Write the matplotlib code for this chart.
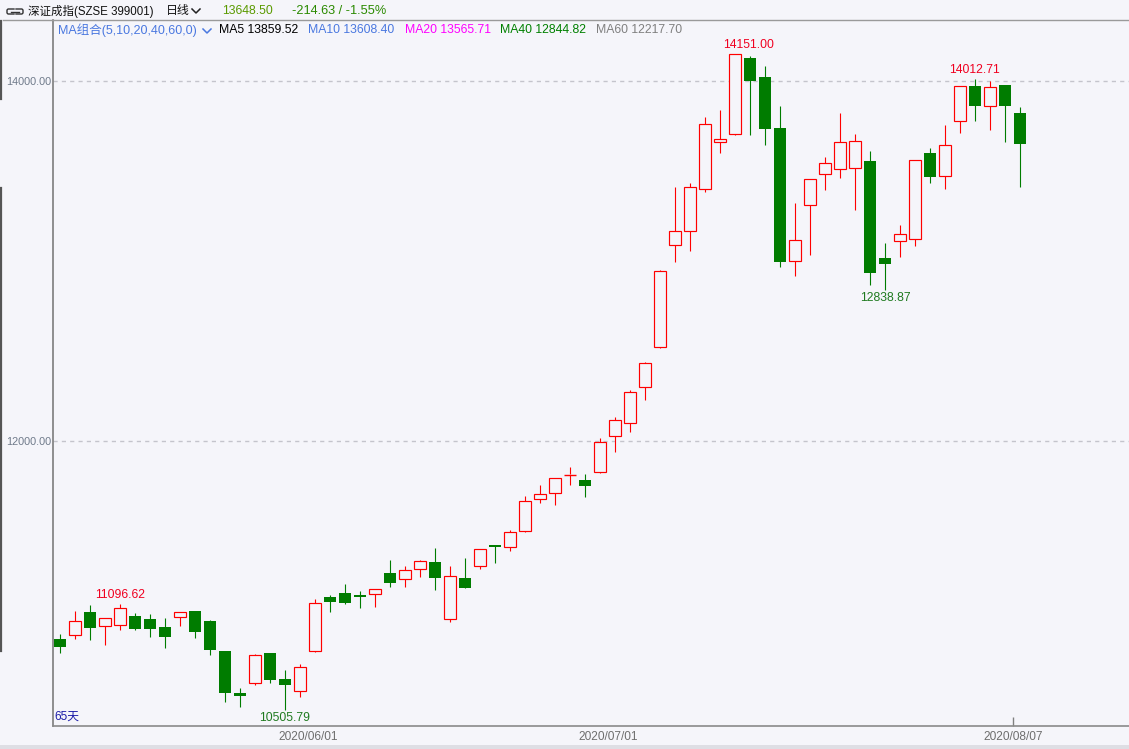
import numpy as np
import pandas as pd
import matplotlib
matplotlib.use('Agg')
import matplotlib.pyplot as plt
from matplotlib.patches import Rectangle
from matplotlib.lines import Line2D

# daily candles of 深证成指, 2020-05-07 .. 2020-08-07 (65 trading days)
holidays = ['2020-06-25', '2020-06-26']
dates = [d for d in pd.bdate_range('2020-05-07', '2020-08-07') if d.strftime('%Y-%m-%d') not in holidays]

open_ = [10900, 10920, 11048, 10970, 10976, 11028, 11009, 10967, 11020, 11055,
         11000, 10833, 10600, 10655, 10822, 10678, 10609, 10832, 11133, 11155,
         11146, 11148, 11267, 11235, 11290, 11326, 11013, 11237, 11307, 11422,
         11413, 11502, 11679, 11709, 11813, 11782, 11826, 12026, 12098, 12298,
         12520, 13087, 13168, 13402, 13663, 13704, 14128, 14022, 13739, 13002,
         13309, 13482, 13509, 13515, 13556, 13017, 13109, 13121, 13598, 13471,
         13776, 13971, 13863, 13978, 13822]
high = [10928, 11055, 11090, 11017, 11096.62, 11044, 11039, 11017, 11050, 11057,
        11006, 10835, 10628, 10818, 10824, 10728, 10761, 11120, 11143, 11205,
        11167, 11178, 11339, 11305, 11339, 11406, 11305, 11350, 11400, 11424,
        11506, 11694, 11755, 11795, 11854, 11817, 12015, 12133, 12283, 12439,
        12950, 13413, 13433, 13800, 13839, 14151.00, 14140, 14083, 13861, 13322,
        13455, 13576, 13822, 13706, 13611, 13100, 13200, 13563, 13629, 13756,
        13972, 14012.71, 14000, 13980, 13856]
low = [10824, 10900, 10894, 10868, 10951, 10951, 10913, 10852, 10974, 10907,
       10813, 10552, 10524, 10643, 10654, 10505.79, 10579, 10830, 11050, 11096,
       11074, 11079, 11191, 11191, 11246, 11172, 10994, 11183, 11290, 11324,
       11391, 11496, 11657, 11646, 11757, 11691, 11824, 11940, 12052, 12228,
       12518, 12996, 13056, 13385, 13602, 13700, 13700, 13644, 12968, 12918,
       13033, 13396, 13463, 13285, 12867, 12838.87, 13024, 13085, 13433, 13402,
       13713, 13779, 13728, 13663, 13413]
close = [10857, 10998, 10963, 11015, 11070, 10957, 10957, 10913, 11048, 10940,
         10841, 10598, 10585, 10809, 10674, 10646, 10743, 11098, 11106, 11102,
         11135, 11176, 11213, 11282, 11331, 11240, 11248, 11185, 11398, 11411,
         11493, 11665, 11704, 11793, 11816, 11752, 11993, 12115, 12270, 12432,
         12943, 13167, 13409, 13759, 13678, 14148, 14002, 13733, 12994, 13115,
         13454, 13543, 13659, 13665, 12935, 12982, 13148, 13561, 13468, 13643,
         13971, 13863, 13965, 13863.13, 13648.50]

high_marks = [4, 45, 61]
low_marks = [15, 55]
grid_levels = [12000, 14000]

ma_names = ['MA5', 'MA10', 'MA20', 'MA40', 'MA60']
ma_values = [13859.52, 13608.40, 13565.71, 12844.82, 12217.70]
ma_colors = ['#000000', '#4a78e0', '#ff00ff', '#008000', '#808080']

W, H = 1129, 749
BG = '#f5f5fa'
RED = '#ff0000'
GREEN = '#007c00'
FAM = ['Liberation Sans', 'Noto Sans CJK SC']

fig = plt.figure(figsize=(W / 100, H / 100), dpi=100, facecolor=BG)
ax = fig.add_axes([53 / W, 1 - 726 / H, (W - 53) / W, (726 - 20) / H])
ax.set_facecolor(BG)
ax.set_xlim(-0.467, 71.27)
ax.set_ylim(10416.7, 14338.9)

# dashed price grid
for lv in grid_levels:
    ax.axhline(lv, color='#c4c4cc', lw=1.0, ls=(0, (3, 3)), zorder=0)

# candles
for i in range(len(close)):
    o, h, l, c = open_[i], high[i], low[i], close[i]
    top, bot = max(o, c), min(o, c)
    if c >= o:
        ax.vlines(i, top, h, color=RED, lw=0.8, zorder=2)
        ax.vlines(i, l, bot, color=RED, lw=0.8, zorder=2)
        if top - bot < 6:
            ax.hlines(o, i - 0.42, i + 0.42, color=RED, lw=1.0, zorder=3)
        else:
            ax.add_patch(Rectangle((i - 0.38, bot), 0.76, top - bot, facecolor=BG,
                                   edgecolor=RED, lw=0.85, zorder=3))
    else:
        ax.vlines(i, l, h, color=GREEN, lw=0.8, zorder=2)
        ax.add_patch(Rectangle((i - 0.42, bot), 0.84, max(top - bot, 6), facecolor=GREEN,
                               edgecolor='none', lw=0, zorder=3))

# extreme labels
for i in high_marks:
    dx = 14 if i == int(np.argmax(high)) else 0
    ax.annotate('%.2f' % high[i], (i, high[i]), xytext=(dx * 0.72, 6), textcoords='offset points',
                ha='center', va='center', color='#f00020', fontsize=8.7, family=FAM)
for i in low_marks:
    ax.annotate('%.2f' % low[i], (i, low[i]), xytext=(0, -6), textcoords='offset points',
                ha='center', va='center', color='#1f7a1f', fontsize=8.7, family=FAM)

# axes styling
ax.spines['right'].set_visible(False)
ax.spines['left'].set_color('#7c7c7c')
ax.spines['left'].set_linewidth(1.2)
ax.spines['bottom'].set_color('#8a8a8a')
ax.spines['bottom'].set_linewidth(1.2)
ax.spines['top'].set_color('#9a9a9a')
ax.spines['top'].set_linewidth(1.0)

ax.set_yticks(grid_levels)
ax.set_yticklabels(['%.2f' % v for v in grid_levels], color='#6f7a8a', fontsize=7.8, family=FAM)
ax.tick_params(axis='y', length=0, pad=1.5)

# first trading day of June and July, plus the last day
tick_idx = []
for k in range(1, len(dates)):
    if dates[k].month != dates[k - 1].month and dates[k].month in (6, 7):
        tick_idx.append(k)
tick_idx.append(len(dates) - 1)
ax.set_xticks([k - 0.47 for k in tick_idx])
ax.set_xticklabels([dates[k].strftime('%Y/%m/%d') for k in tick_idx],
                   color='#6e6e6e', fontsize=8.6, family=FAM)
ax.tick_params(axis='x', length=0, pad=3.5)
ax.vlines(len(dates) - 1 - 0.47, 0, 9 / 706, transform=ax.get_xaxis_transform(),
          color='#808080', lw=1.0, clip_on=False)

fig.text(54 / W, 1 - 717 / H, '65天', color='#1c1ca8', fontsize=8.5, va='center',
         ha='left', family=FAM)


# ---- header ----
def fpx(x, y):
    return x / W, 1 - y / H


def ftext(x, y, s, color, size=8.5):
    fig.text(*fpx(x, y), s, color=color, fontsize=size, va='center', ha='left', family=FAM)


def chevron(x, y, color):
    xs = [x, x + 4, x + 8]
    ys = [y - 2, y + 2, y - 2]
    fig.add_artist(Line2D([v / W for v in xs], [1 - v / H for v in ys], color=color, lw=1.1))


def fline(pts, color, lw=1.0):
    fig.add_artist(Line2D([p[0] / W for p in pts], [1 - p[1] / H for p in pts], color=color, lw=lw))


# link icon
fline([(14, 9), (8, 9), (7, 10), (7, 13), (8, 14), (14, 14)], '#333333', 1.0)
fline([(16, 9), (22, 9), (23, 10), (23, 13), (22, 14), (16, 14)], '#333333', 1.0)
fline([(11, 11.5), (19, 11.5)], '#333333', 1.0)

ftext(28, 11, '深证成指(SZSE 399001)', '#111111', 8.3)
ftext(166, 11, '日线', '#111111', 8.6)
chevron(192, 11, '#222222')
ftext(222, 11, '%.2f' % close[-1], '#5a9a00', 8.8)
chg = close[-1] - close[-2]
ftext(292, 11, '%.2f / %.2f%%' % (chg, chg / close[-2] * 100), '#2a8a00', 9.2)

ftext(58, 30, 'MA组合(5,10,20,40,60,0)', '#4a78e0', 9.0)
chevron(203, 31, '#4a78e0')
ma_x = [219, 308, 405, 500, 596]
for x, n, v, col in zip(ma_x, ma_names, ma_values, ma_colors):
    ftext(x, 30, '%s %.2f' % (n, v), col, 8.8)

# frame bits outside the axes
fline([(3, 20), (53, 20)], '#9a9a9a', 1.0)
fline([(1, 21), (1, 99)], '#555555', 1.6)
fline([(1, 188), (1, 651)], '#555555', 1.6)
fig.add_artist(Rectangle((0, 0), 1, 4 / H, transform=fig.transFigure,
                         facecolor='#dedee4', edgecolor='none'))

fig.savefig('out.png', dpi=100, facecolor=BG)
